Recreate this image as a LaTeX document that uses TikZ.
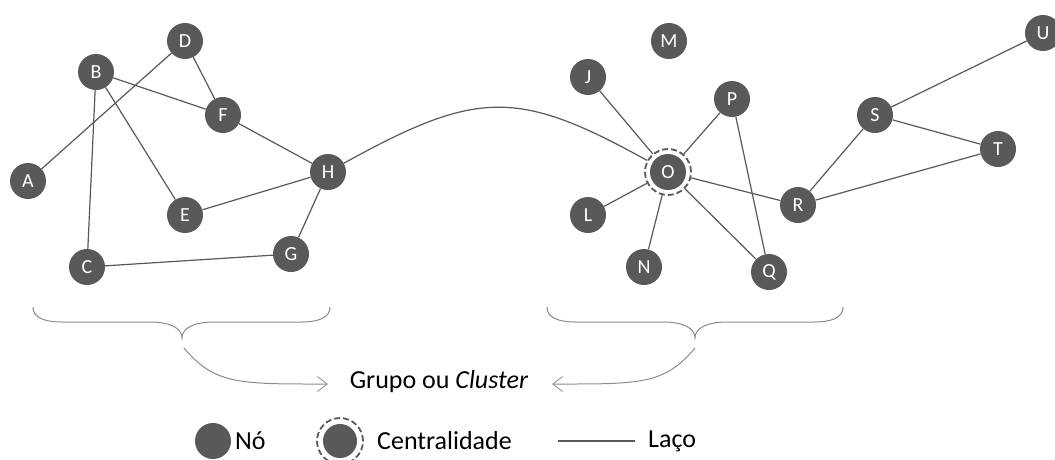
\documentclass[tikz,border=0pt]{standalone}
\usepackage{fontspec}
\setmainfont{Carlito}
\usetikzlibrary{arrows.meta}
\definecolor{nodegray}{HTML}{595959}
\definecolor{bracegray}{HTML}{8C8C8C}
\begin{document}
\begin{tikzpicture}[x=1pt,y=-1pt,
  vertex/.style={circle, fill=nodegray, minimum size=36pt, inner sep=0pt,
    text=white, font=\fontsize{20}{20}\selectfont},
  hub/.style={circle, draw=nodegray, dash pattern=on 6pt off 3pt,
    line width=1.8pt, minimum size=46pt, inner sep=0pt, fill=white},
  link/.style={draw=nodegray, line width=1.2pt},
  brace/.style={draw=bracegray, line width=1pt},
  pointer/.style={brace, -{Straight Barb[length=10pt,width=15pt,line width=0.8pt]}},
  caption/.style={inner sep=0pt, font=\fontsize{26}{26}\selectfont}]
\useasboundingbox[fill=white] (0,0) rectangle (1055,459);

% left group
\node[vertex] (A) at (28,181) {A};
\node[vertex] (B) at (96,72) {B};
\node[vertex] (C) at (87,267) {C};
\node[vertex] (D) at (185,41) {D};
\node[vertex] (E) at (185,215) {E};
\node[vertex] (F) at (223,115) {F};
\node[vertex] (H) at (328,172) {H};
\node[vertex] (G) at (291,254) {G};

% right group
\node[hub] (O) at (668,172) {};
\node[vertex] (Oc) at (O) {O};
\node[vertex] (M) at (669,41) {M};
\node[vertex] (J) at (588,77) {J};
\node[vertex] (P) at (732,99) {P};
\node[vertex] (L) at (588,215) {L};
\node[vertex] (N) at (644,267) {N};
\node[vertex] (Q) at (769,272) {Q};
\node[vertex] (R) at (798,205) {R};
\node[vertex] (S) at (875,115) {S};
\node[vertex] (T) at (998,149) {T};
\node[vertex] (U) at (1043,33) {U};

% ties
\draw[link] (A) -- (D);
\draw[link] (B) -- (C);
\draw[link] (B) -- (E);
\draw[link] (B) -- (F);
\draw[link] (D) -- (F);
\draw[link] (F) -- (H);
\draw[link] (E) -- (H);
\draw[link] (H) -- (G);
\draw[link] (C) -- (G);
\draw[link] (H) .. controls (478,89) and (518,89) .. (O);
\draw[link] (J) -- (O);
\draw[link] (P) -- (O);
\draw[link] (L) -- (O);
\draw[link] (N) -- (O);
\draw[link] (Q) -- (O);
\draw[link] (R) -- (O);
\draw[link] (P) -- (Q);
\draw[link] (R) -- (S);
\draw[link] (R) -- (T);
\draw[link] (S) -- (T);
\draw[link] (S) -- (U);

% group braces
\draw[brace] (33,307) .. controls (33,318) and (45,322) .. (62,322) -- (150,322)
  .. controls (170,322) and (182,328) .. (182,338)
  .. controls (182,328) and (194,322) .. (214,322) -- (301,322)
  .. controls (318,322) and (330,318) .. (330,307);
\draw[brace] (547,307) .. controls (547,318) and (559,322) .. (576,322) -- (663,322)
  .. controls (683,322) and (695,328) .. (695,338)
  .. controls (695,328) and (707,322) .. (727,322) -- (814,322)
  .. controls (831,322) and (843,318) .. (843,307);

% caption with pointers from the braces
\node[caption] (grp) at (439,382) {Grupo ou \textit{Cluster}};
\coordinate (lb) at (184,348);
\coordinate (rb) at (695,348);
\coordinate (la) at (328,384);
\coordinate (ra) at (552,384);
\draw[pointer] (lb) .. controls (215,385) and (240,384) .. (la);
\draw[pointer] (rb) .. controls (664,385) and (640,384) .. (ra);

% legend
\node[vertex] (kn) at (213,441) {};
\node[caption, anchor=west] (kntext) at (235,441) {Nó};
\node[hub] (kh) at (340,441) {};
\node[vertex, minimum size=34pt] (khc) at (kh) {};
\node[caption, anchor=west] (khtext) at (377,441) {Centralidade};
\coordinate (kl1) at (558,441);
\coordinate (kl2) at (635,441);
\draw[link] (kl1) -- (kl2);
\node[caption, anchor=west] (kltext) at (648,441) {Laço};
\end{tikzpicture}
\end{document}
